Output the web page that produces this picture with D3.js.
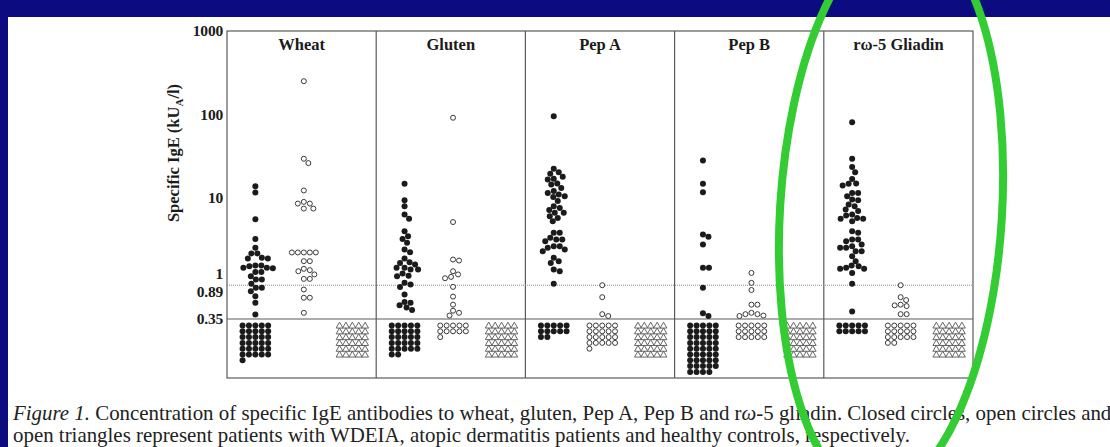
<!DOCTYPE html>
<html><head><meta charset="utf-8">
<script src="https://cdn.jsdelivr.net/npm/d3@7/dist/d3.min.js"></script>
<style>body{margin:0;padding:0;overflow:hidden;background:#0c0c80}svg{display:block}</style>
</head><body>
<script>
// ---- data ----
const panels = ["Wheat", "Gluten", "Pep A", "Pep B", "rω-5 Gliadin"];
const yTicks = [1000, 100, 10, 1, 0.89, 0.35];
// values above detection limit (kUA/l)
const wheatWDEIA = [13.7, 11.5, 5.5, 3.2, 2.5, 2.14, 2.14, 1.86, 1.86, 1.9, 1.53, 1.53, 1.5, 1.44, 1.44, 1.42, 1.28, 1.28, 1.14, 1.04, 1.04, 0.925, 0.83, 0.83, 0.755, 0.657, 0.547, 0.396];
const wheatAtopic = [250, 29.3, 26, 12.2, 8.9, 8.5, 8.5, 7.4, 7.4, 2.2, 2.2, 2.2, 2.2, 2.2, 1.73, 1.73, 1.4, 1.35, 1.31, 1.2, 1.06, 1.06, 0.79, 0.63, 0.63, 0.415];
const glutenWDEIA = [14.7, 9.3, 7.9, 6.3, 5.6, 3.96, 3.45, 3.2, 2.87, 2.39, 2.22, 1.86, 1.68, 1.65, 1.58, 1.44, 1.44, 1.37, 1.37, 1.23, 1.16, 1.14, 0.95, 0.91, 0.85, 0.69, 0.56, 0.55, 0.51, 0.48, 0.45];
const glutenAtopic = [91, 5.1, 1.81, 1.76, 1.31, 1.2, 1.12, 1.08, 0.85, 0.65, 0.52, 0.44, 0.415, 0.385];
const pepAWDEIA = [95, 22.2, 20.2, 19.4, 17.8, 16.9, 16.5, 14.8, 14.4, 13.1, 12, 11.4, 10.9, 10.4, 10.2, 9.1, 7.9, 7.5, 7.1, 6.6, 6.6, 6.0, 5.7, 5.2, 3.79, 3.79, 3.3, 3.15, 3.15, 3.0, 2.62, 2.62, 2.5, 2.39, 2.28, 1.9, 1.73, 1.65, 1.37, 1.31, 0.925];
const pepAAtopic = [0.89, 0.64, 0.40, 0.38];
const pepBWDEIA = [28, 14.7, 11.6, 3.61, 3.39, 2.74, 1.44, 1.44, 0.83, 0.41, 0.38];
const pepBAtopic = [1.25, 0.95, 0.78, 0.52, 0.52, 0.415, 0.40, 0.40, 0.385, 0.38];
const omegaWDEIA = [80.6, 29.3, 23.3, 20.2, 16.8, 14.8, 14.7, 14.0, 11.4, 11.4, 10.4, 9.5, 9.3, 8.3, 7.9, 7.2, 6.9, 6.3, 6.1, 5.7, 5.6, 5.6, 5.2, 3.96, 3.79, 3.15, 3.15, 3.0, 2.74, 2.62, 2.5, 2.5, 2.28, 2.28, 1.98, 1.73, 1.53, 1.5, 1.44, 1.4, 1.4, 1.25, 0.93, 0.43];
const omegaAtopic = [0.89, 0.64, 0.59, 0.52, 0.51, 0.50, 0.40, 0.40];
// counts below detection limit (<0.35) per panel
const wdeiaBelow = [31, 27, 12, 44, 10];
const atopicBelow = [0, 11, 21, 15, 17];
const controlBelow = [30, 30, 30, 30, 30];

const wdeiaAbove = [wheatWDEIA, glutenWDEIA, pepAWDEIA, pepBWDEIA, omegaWDEIA];
const atopicAbove = [wheatAtopic, glutenAtopic, pepAAtopic, pepBAtopic, omegaAtopic];

(function () {
// ---- layout ----
const W = 1110, H = 447;
const svg = d3.select("body").append("svg").attr("width", W).attr("height", H);
svg.append("rect").attr("width", W).attr("height", H).attr("fill", "#0c0c80");
svg.append("rect").attr("x", 8).attr("y", 17).attr("width", W - 8).attr("height", H - 17).attr("fill", "#fff");

const mL = 227, mR = 973, mT = 31, mB = 378;
const y = d3.scaleLog().domain([0.35, 1000]).range([319, mT]);
const px = d3.scaleBand().domain(panels).range([mL, mR]);
const groups = ["wdeia", "atopic", "control"];
const gx = d3.scalePoint().domain(groups).range([0.19, 0.84]);
const colX = (p, g) => px(p) + gx(g) * px.bandwidth();

const serif = "'Liberation Serif','Times New Roman',serif";
const ink = "#1b1b1b", lineC = "#5a5a5a";

// frame
const frame = svg.append("g");
frame.append("rect").attr("x", mL).attr("y", mT).attr("width", mR - mL).attr("height", mB - mT)
  .attr("fill", "none").attr("stroke", lineC).attr("stroke-width", 1.2);
panels.slice(1).forEach(p => frame.append("line").attr("x1", px(p)).attr("x2", px(p)).attr("y1", mT).attr("y2", mB)
  .attr("stroke", lineC).attr("stroke-width", 1.2));
frame.append("line").attr("x1", mL).attr("x2", mR).attr("y1", y(0.89)).attr("y2", y(0.89))
  .attr("stroke", "#8a8a8a").attr("stroke-width", 1).attr("stroke-dasharray", "1,1");
frame.append("line").attr("x1", mL).attr("x2", mR).attr("y1", y(0.35)).attr("y2", y(0.35))
  .attr("stroke", lineC).attr("stroke-width", 1.2);

// y axis
const ax = svg.append("g").attr("transform", `translate(${mL},0)`)
  .call(d3.axisLeft(y).tickValues(yTicks).tickSize(0).tickPadding(4).tickFormat(d => String(d)));
ax.select(".domain").remove();
ax.selectAll("text").attr("font-family", serif).attr("font-weight", "bold").attr("font-size", 15.5).attr("fill", ink)
  .attr("letter-spacing", -0.2)
  .attr("dy", d => d === 1 ? "-0.18em" : d === 0.89 ? "0.72em" : "0.32em");

// y title
const yt = svg.append("text").attr("transform", "translate(179,153) rotate(-90)").attr("text-anchor", "middle")
  .attr("font-family", serif).attr("font-weight", "bold").attr("font-size", 16.5).attr("fill", ink);
yt.append("tspan").text("Specific IgE (kU");
yt.append("tspan").attr("font-size", 11).attr("dy", 4).text("A");
yt.append("tspan").attr("dy", -4).text("/l)");

// panel titles
svg.append("g").selectAll("text").data(panels).join("text")
  .attr("x", p => px(p) + px.bandwidth() / 2).attr("y", 50).attr("text-anchor", "middle")
  .attr("font-family", serif).attr("font-weight", "bold").attr("font-size", 16.5).attr("fill", ink).text(p => p);

// dodge layout for values above limit
function dodge(vals, cx, d) {
  const pts = vals.map(v => ({ v, y: y(v), x: cx }));
  const order = d3.range(pts.length).sort((a, b) => pts[a].y - pts[b].y);
  const placed = [];
  for (const i of order) {
    const p = pts[i];
    for (let k = 0; k < 400; k++) {
      const off = (k % 2 ? 1 : -1) * Math.ceil(k / 2) * 0.5;
      const xx = cx + off;
      if (placed.every(q => (q.x - xx) ** 2 + (q.y - p.y) ** 2 >= d * d)) { p.x = xx; break; }
    }
    placed.push(p);
  }
  return pts;
}
// grid layout for values below limit
function grid(n, cx) {
  const sx = 6.4, sy = 5.8, y0 = 325.5;
  return d3.range(n).map(i => ({ x: cx + (i % 5 - 2) * sx, y: y0 + Math.floor(i / 5) * sy }));
}

const marks = svg.append("g");
panels.forEach((p, i) => {
  const cw = colX(p, "wdeia"), ca = colX(p, "atopic"), cc = colX(p, "control");
  marks.append("g").selectAll("circle").data(dodge(wdeiaAbove[i], cw, 5.9).concat(grid(wdeiaBelow[i], cw))).join("circle")
    .attr("cx", d => d.x).attr("cy", d => d.y).attr("r", 3).attr("fill", ink);
  marks.append("g").selectAll("circle").data(dodge(atopicAbove[i], ca, 5.9).concat(grid(atopicBelow[i], ca))).join("circle")
    .attr("cx", d => d.x).attr("cy", d => d.y).attr("r", 2.5).attr("fill", "#fff").attr("stroke", "#3a3a3a").attr("stroke-width", 1);
  marks.append("g").selectAll("path").data(grid(controlBelow[i], cc)).join("path")
    .attr("transform", d => `translate(${d.x},${d.y + 0.6})`)
    .attr("d", d3.symbol(d3.symbolTriangle, 20)).attr("fill", "#fff").attr("stroke", "#555").attr("stroke-width", 0.9);
});

// caption
const cap = svg.append("g").attr("font-family", serif).attr("font-size", 20.9).attr("fill", "#222");
const l1 = cap.append("text").attr("x", 13).attr("y", 420);
l1.append("tspan").attr("font-style", "italic").text("Figure 1.");
l1.append("tspan").text(" Concentration of specific IgE antibodies to wheat, gluten, Pep A, Pep B and r");
l1.append("tspan").attr("font-style", "italic").text("ω");
l1.append("tspan").text("-5 gliadin. Closed circles, open circles and");
cap.append("text").attr("x", 13).attr("y", 442)
  .text("open triangles represent patients with WDEIA, atopic dermatitis patients and healthy controls, respectively.");

// green annotation ellipse
svg.append("ellipse").attr("cx", 891).attr("cy", 212).attr("rx", 111).attr("ry", 282)
  .attr("transform", "rotate(3.5,891,212)")
  .attr("fill", "none").attr("stroke", "#33cc33").attr("stroke-width", 8);
})();
</script>
</body></html>
